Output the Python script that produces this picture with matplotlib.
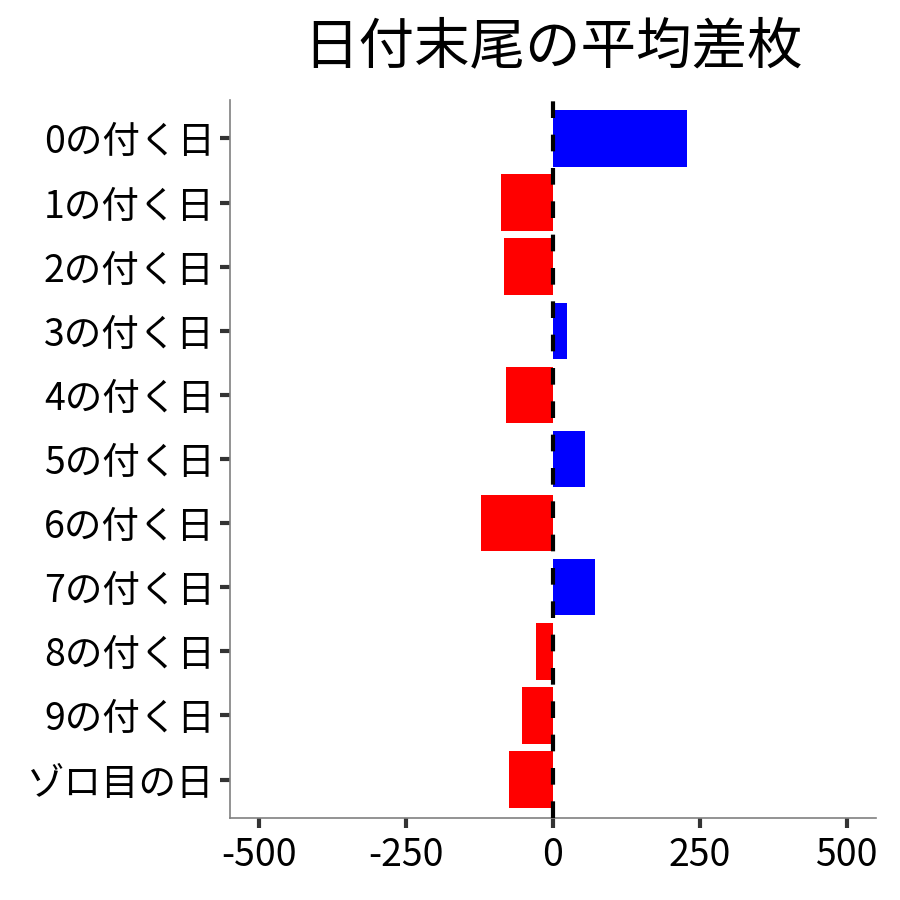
import matplotlib
matplotlib.use("Agg")
import matplotlib.pyplot as plt

plt.rcParams['font.family'] = ['Noto Sans CJK JP', 'DejaVu Sans']

labels = ["0の付く日", "1の付く日", "2の付く日", "3の付く日", "4の付く日",
          "5の付く日", "6の付く日", "7の付く日", "8の付く日", "9の付く日", "ゾロ目の日"]
values = [229, -88, -83, 24, -80, 54, -122, 71, -29, -53, -75]

colors = ["blue" if v > 0 else "red" for v in values]
pos = list(range(len(labels)))[::-1]

fig = plt.figure(figsize=(9, 9), dpi=100)
ax = fig.add_axes([230/900, 82/900, 646/900, 718/900])

ax.barh(pos, values, height=0.88, color=colors, zorder=2)
ax.axvline(0, color="black", lw=3, dashes=(4, 4), zorder=3)

ax.set_xlim(-550, 550)
ax.set_ylim(-0.6, len(labels) - 0.4)
ax.set_xticks([-500, -250, 0, 250, 500])
ax.set_xticklabels(["-500", "-250", "0", "250", "500"])
ax.set_yticks(pos)
ax.set_yticklabels(labels)
ax.tick_params(axis="both", labelsize=27, colors="#333333", length=7, width=3,
               labelcolor="black")
ax.tick_params(axis="x", pad=6)
ax.tick_params(axis="y", pad=4)

for s in ["top", "right"]:
    ax.spines[s].set_visible(False)
for s in ["left", "bottom"]:
    ax.spines[s].set_color("#808080")
    ax.spines[s].set_linewidth(1.2)

fig.text(553/900, 1 - 47/900, "日付末尾の平均差枚", fontsize=40, ha="center", va="center")

fig.savefig("out.png", dpi=100)
